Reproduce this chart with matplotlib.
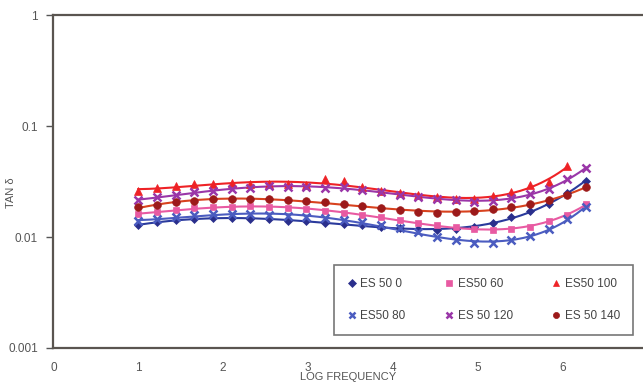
import matplotlib
matplotlib.use("Agg")
import matplotlib.pyplot as plt
import numpy as np

plt.rcParams['font.family'] = ['Liberation Sans', 'DejaVu Sans']

# log frequency steps used for every sample
log_f = [1.00, 1.22, 1.44, 1.66, 1.88, 2.10, 2.32, 2.54, 2.76, 2.98, 3.20, 3.42,
         3.64, 3.86, 4.08, 4.30, 4.52, 4.74, 4.96, 5.18, 5.40, 5.62, 5.84, 6.06, 6.28]

es50_0 = [0.0128, 0.0136, 0.0142, 0.0146, 0.0148, 0.0147, 0.0146, 0.0145, 0.0140,
          0.0138, 0.0135, 0.0131, 0.0128, 0.0124, 0.0121, 0.0118, 0.0116, 0.0117,
          0.0122, 0.0133, 0.0150, 0.0172, 0.0200, 0.0250, 0.0320]
es50_60 = [0.0160, 0.0168, 0.0175, 0.0182, 0.0186, 0.0188, 0.0190, 0.0186, 0.0182,
           0.0178, 0.0172, 0.0166, 0.0158, 0.0150, 0.0142, 0.0135, 0.0128, 0.0122,
           0.0118, 0.0116, 0.0118, 0.0124, 0.0138, 0.0158, 0.0200]
es50_80 = [0.0138, 0.0145, 0.0152, 0.0158, 0.0160, 0.0162, 0.0160, 0.0158, 0.0155,
           0.0152, 0.0148, 0.0142, 0.0136, 0.0128, 0.0120, 0.0110, 0.0100, 0.0093,
           0.0089, 0.0089, 0.0093, 0.0102, 0.0118, 0.0145, 0.0188]
es50_100 = [0.0262, 0.0275, 0.0290, 0.0298, 0.0303, 0.0305, 0.0300, 0.0302, 0.0300,
            0.0296, 0.0330, 0.0318, 0.0280, 0.0262, 0.0250, 0.0240, 0.0228, 0.0222,
            0.0220, 0.0232, 0.0255, 0.0295, 0.0310, 0.0440]
es50_120 = [0.0215, 0.0228, 0.0240, 0.0252, 0.0262, 0.0270, 0.0275, 0.0290, 0.0285,
            0.0280, 0.0278, 0.0285, 0.0265, 0.0255, 0.0240, 0.0230, 0.0222, 0.0215,
            0.0208, 0.0212, 0.0225, 0.0245, 0.0272, 0.0330, 0.0420]
es50_140 = [0.0185, 0.0195, 0.0205, 0.0212, 0.0218, 0.0222, 0.0222, 0.0220, 0.0215,
            0.0210, 0.0205, 0.0198, 0.0190, 0.0182, 0.0174, 0.0168, 0.0166, 0.0168,
            0.0172, 0.0178, 0.0185, 0.0198, 0.0215, 0.0240, 0.0280]

series = [
    ("ES 50 0", es50_0, "#2a2f8c", "#2a3a9c", "D", 4.5),
    ("ES50 60", es50_60, "#e85aa2", "#e85aa2", "s", 5),
    ("ES50 100", es50_100, "#ee2226", "#ee2226", "^", 6),
    ("ES50 80", es50_80, "#4b5cc0", "#4b5cc0", "x", 6),
    ("ES 50 120", es50_120, "#9a36a8", "#9a36a8", "x", 6),
    ("ES 50 140", es50_140, "#9c1a1a", "#d8421e", "o", 5.5),
]

fig = plt.figure(figsize=(6.43, 3.83), dpi=100)
ax = fig.add_axes([0.083, 0.0914, 0.917, 0.8694])

handles = {}
for name, vals, mcol, lcol, mk, ms in series:
    x = np.array(log_f[:len(vals)])
    y = np.array(vals)
    # polynomial trend line fitted in log space
    coef = np.polyfit(x, np.log10(y), 4)
    xs = np.linspace(x[0], x[-1], 200)
    ax.plot(xs, 10 ** np.polyval(coef, xs), color=lcol, lw=1.5, zorder=2)
    h, = ax.plot(x, y, linestyle="none", marker=mk, color=mcol, ms=ms,
                 mew=1.8 if mk == "x" else 0.5, zorder=3, label=name)
    handles[name] = h

ax.set_yscale("log")
ax.set_ylim(0.001, 1)
ax.set_xlim(0, 6.95)
ax.set_yticks([0.001, 0.01, 0.1, 1])
ax.set_yticklabels(["0.001", "0.01", "0.1", "1"])
ax.yaxis.set_minor_locator(matplotlib.ticker.NullLocator())
ax.set_xticks(range(7))
ax.tick_params(axis="x", length=0, pad=10, labelsize=8.5, labelcolor="#555555")
ax.tick_params(axis="y", length=5, width=1, color="#555555", labelsize=8.5,
               labelcolor="#555555", pad=6)

for side in ("left", "bottom", "top"):
    ax.spines[side].set_color("#5a5550")
    ax.spines[side].set_linewidth(1.6)
ax.spines["right"].set_visible(False)

ax.set_xlabel("LOG FREQUENCY", fontsize=8, color="#555555", labelpad=-1)
ax.set_ylabel("TAN δ", fontsize=8, color="#555555")
ax.yaxis.set_label_coords(-0.063, 0.465)

order = ["ES 50 0", "ES50 80", "ES50 60", "ES 50 120", "ES50 100", "ES 50 140"]
leg = ax.legend([handles[n] for n in order], order, ncol=3, loc="lower right",
                bbox_to_anchor=(0.993, 0.02), fontsize=8.5, frameon=True,
                fancybox=False, edgecolor="#555555", handlelength=0.8,
                handletextpad=0.3, columnspacing=3.3, labelspacing=1.7,
                borderpad=1.1, markerscale=0.8)
leg.get_frame().set_linewidth(1.2)
for t in leg.get_texts():
    t.set_color("#444444")

fig.savefig("out.png", dpi=100)
